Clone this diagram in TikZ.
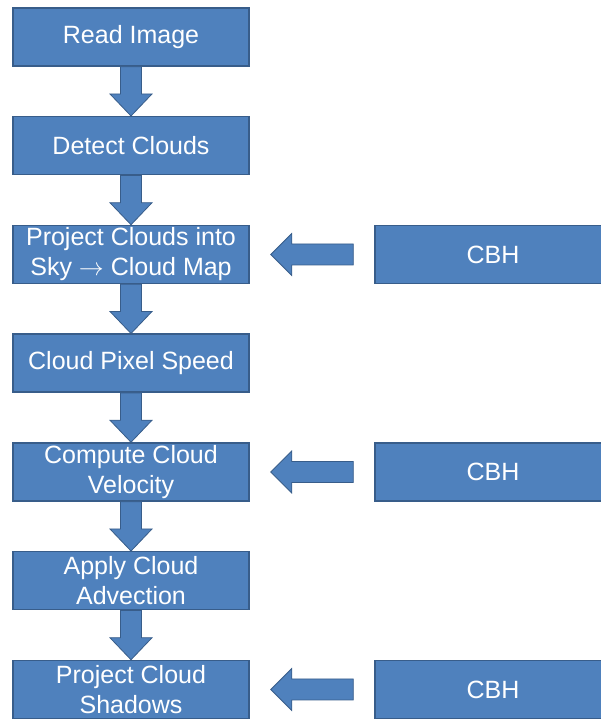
\documentclass[tikz,border=0pt]{standalone}
\usepackage{fontspec}
\setmainfont{Liberation Sans}
\usepackage{xcolor}
\definecolor{boxblue}{RGB}{79,129,189}
\definecolor{edgeblue}{RGB}{56,93,138}
\usetikzlibrary{calc}

% block arrow pointing down, from node #1 to node #2
\newcommand{\downflow}[2]{%
  \draw[flowarrow] ($(#1.south)+(-10.5,0)$) -- ($(#2.north)+(-10.5,22)$) -- ($(#2.north)+(-21,22)$)
    -- (#2.north) -- ($(#2.north)+(21,22)$) -- ($(#2.north)+(10.5,22)$) -- ($(#1.south)+(10.5,0)$) -- cycle;}
% block arrow pointing left, from node #1 to node #2
\newcommand{\leftflow}[2]{%
  \draw[flowarrow] ($(#1.west)+(-21,10.5)$) -- ($(#2.east)+(42,10.5)$) -- ($(#2.east)+(42,21)$)
    -- ($(#2.east)+(21,0)$) -- ($(#2.east)+(42,-21)$) -- ($(#2.east)+(42,-10.5)$) -- ($(#1.west)+(-21,-10.5)$) -- cycle;}

\begin{document}
\begin{tikzpicture}[x=1pt, y=1pt,
  stepbox/.style={draw=edgeblue, line width=1.5pt, fill=boxblue, text=white,
    minimum width=236pt, minimum height=58pt, inner sep=0pt, align=center,
    font=\fontsize{25}{30}\selectfont},
  flowarrow/.style={draw=edgeblue, line width=0.8pt, fill=boxblue, line join=miter}]
  \useasboundingbox (0,0) rectangle (600,719);

  % --- Main chain ---
  \node[stepbox] (read)    at (131,682)    {Read Image};
  \node[stepbox] (detect)  at (131,573.25) {Detect Clouds};
  \node[stepbox] (project) at (131,464.5)  {Project Clouds into\\Sky $\rightarrow$ Cloud Map};
  \node[stepbox] (speed)   at (131,355.75) {Cloud Pixel Speed};
  \node[stepbox] (veloc)   at (131,247)    {Compute Cloud\\Velocity};
  \node[stepbox] (advect)  at (131,138.25) {Apply Cloud\\Advection};
  \node[stepbox] (shadow)  at (131,29.5)   {Project Cloud\\Shadows};

  % --- CBH inputs ---
  \node[stepbox] (cbhA) at (493,464.5) {CBH};
  \node[stepbox] (cbhB) at (493,247)   {CBH};
  \node[stepbox] (cbhC) at (493,29.5)  {CBH};

  % --- Arrows ---
  \downflow{read}{detect}
  \downflow{detect}{project}
  \downflow{project}{speed}
  \downflow{speed}{veloc}
  \downflow{veloc}{advect}
  \downflow{advect}{shadow}
  \leftflow{cbhA}{project}
  \leftflow{cbhB}{veloc}
  \leftflow{cbhC}{shadow}
\end{tikzpicture}
\end{document}
